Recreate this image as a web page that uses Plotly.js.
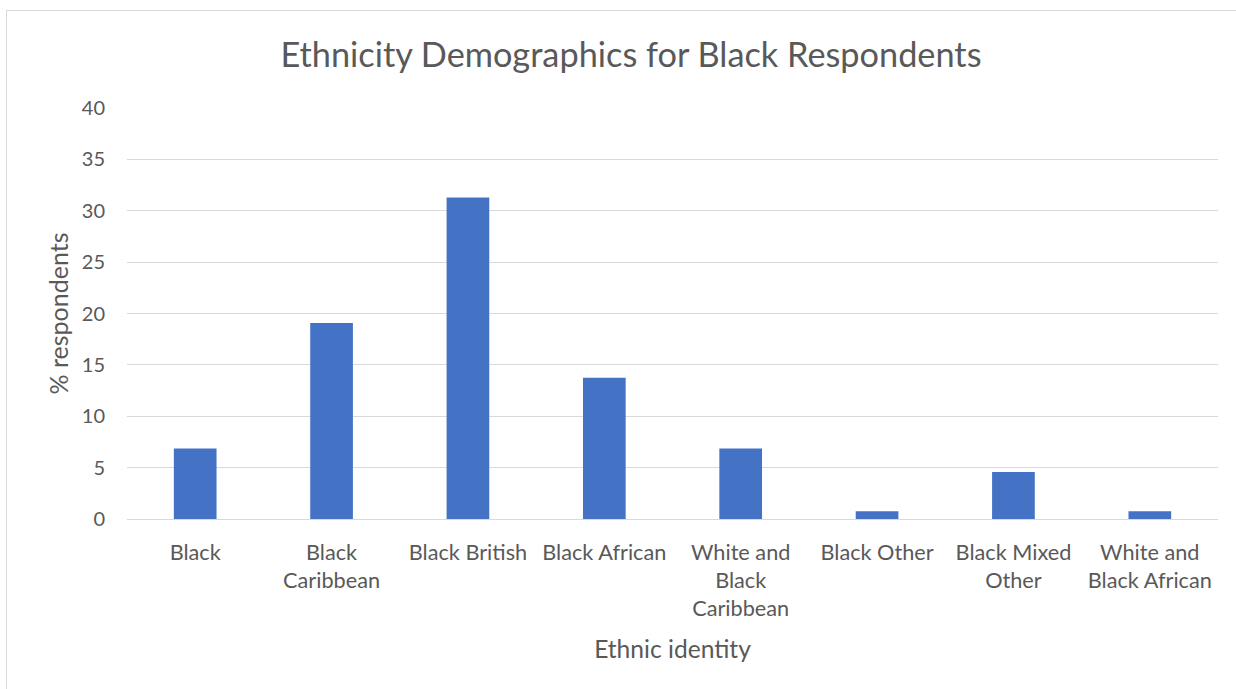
<!DOCTYPE html>
<html>
<head>
<meta charset="utf-8">
<script src="https://cdn.plot.ly/plotly-3.0.1.min.js"></script>
<style>
  html, body { margin: 0; padding: 0; background: #ffffff; }
  #wrap { position: relative; width: 1236px; height: 689px; overflow: hidden; }
  #chart { position: absolute; left: 0; top: 0; width: 1236px; height: 689px; }
  #frame { position: absolute; left: 6px; top: 10px; width: 1300px; height: 760px;
           border-left: 1px solid #d9d9d9; border-top: 1px solid #d9d9d9;
           pointer-events: none; }
</style>
</head>
<body>
<div id="wrap">
  <div id="chart"></div>
  <div id="frame"></div>
</div>
<script>
// Ethnic identity categories (line breaks as shown under the axis)
const categories = [
  "Black",
  "Black<br>Caribbean",
  "Black British",
  "Black African",
  "White and<br>Black<br>Caribbean",
  "Black Other",
  "Black Mixed<br>Other",
  "White and<br>Black African"
];

// Share of respondents, in percent
const percentRespondents = [6.87, 19.08, 31.30, 13.74, 6.87, 0.76, 4.58, 0.76];

const yTickValues = [0, 5, 10, 15, 20, 25, 30, 35, 40];

const FONT = "Lato, 'Open Sans', sans-serif";
const TEXT = "#595959";
const GRID = "#d9d9d9";

const trace = {
  type: "bar",
  x: categories,
  y: percentRespondents,
  marker: { color: "#4472c4", line: { width: 0 } },
  hoverinfo: "x+y"
};

const layout = {
  width: 1236,
  height: 689,
  paper_bgcolor: "#ffffff",
  plot_bgcolor: "#ffffff",
  margin: { l: 127, r: 18, t: 108, b: 170 },
  bargap: 0.687,
  showlegend: false,
  font: { family: FONT, color: TEXT },
  title: {
    text: "Ethnicity Demographics for Black Respondents",
    font: { family: FONT, size: 34.3, color: TEXT },
    xref: "container", x: 0.5105, xanchor: "center",
    yref: "container", y: 1 - 55 / 689, yanchor: "middle"
  },
  xaxis: {
    type: "category",
    tickfont: { family: FONT, size: 21.7, color: TEXT },
    ticks: "outside", ticklen: 14, tickcolor: "rgba(0,0,0,0)",
    showline: true, linecolor: GRID, linewidth: 1,
    showgrid: false, zeroline: false,
    title: { text: "Ethnic identity", font: { family: FONT, size: 24.6, color: TEXT }, standoff: 20 }
  },
  yaxis: {
    range: [0, 40],
    tickvals: yTickValues,
    tickfont: { family: FONT, size: 20, color: TEXT },
    ticks: "outside", ticklen: 17, tickcolor: "rgba(0,0,0,0)",
    showgrid: true, gridcolor: GRID, gridwidth: 1,
    zeroline: false, showline: false,
    title: { text: "% respondents", font: { family: FONT, size: 25, color: TEXT }, standoff: 6 }
  }
};

Plotly.newPlot("chart", [trace], layout, { displayModeBar: false, staticPlot: true });
</script>
</body>
</html>
